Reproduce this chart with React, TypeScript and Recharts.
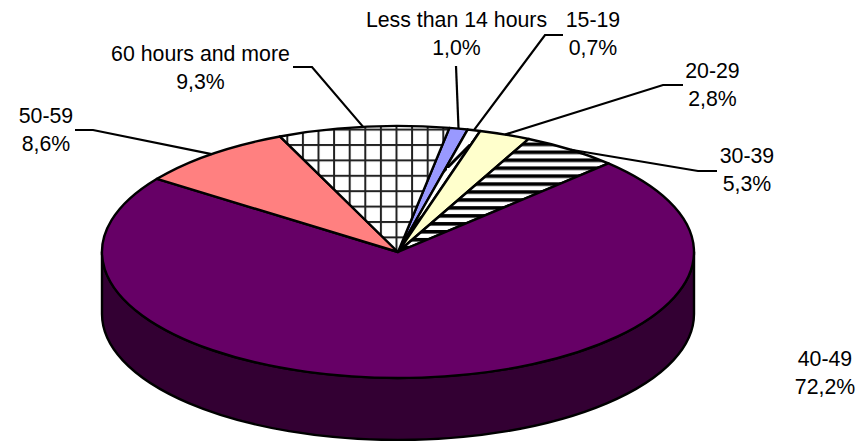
import { PieChart, Pie, Cell } from 'recharts';

const categories = ['Less than 14 hours', '15-19', '20-29', '30-39', '40-49', '50-59', '60 hours and more'];
const shares = [1.0, 0.7, 2.8, 5.3, 72.2, 8.6, 9.3];

const topFills = ['#9999FF', 'url(#diag)', '#FFFFCC', 'url(#stripes)', '#660066', '#FF8080', 'url(#grid)'];
const sideFills = ['#4D4D80', '#808080', '#808066', '#808080', '#330033', '#804040', '#808080'];

// label centre x, baselines and leader elbow points, by category index
const labelX = [456.5, 593, 712.5, 747, 825, 46, 200.5];
const labelY = [27, 27, 78, 163, 366, 123, 61];
const leaders: number[][][] = [
  [[456, 66]],
  [[545, 35], [563, 35]],
  [[663, 85], [683, 85]],
  [[698, 171], [717, 171]],
  [],
  [[93, 130], [75, 130]],
  [[312, 67], [293, 67]],
];

const data = categories.map((name, i) => ({ name, value: shares[i] }));

const CX = 398;
const CY = 252;
const RX = 296;
const RY = 126;
const DEPTH = 62;
const SQUASH = RY / RX;
const RAD = Math.PI / 180;

const px = (cx: number, r: number, a: number) => cx + r * Math.cos(a * RAD);
const py = (cy: number, r: number, a: number) => cy - r * SQUASH * Math.sin(a * RAD);

function TopSlice(props: any) {
  const { cx, cy, outerRadius: r, startAngle: s, endAngle: e, fill } = props;
  const ry = r * SQUASH;
  const large = s - e > 180 ? 1 : 0;
  const d = `M${cx},${cy} L${px(cx, r, s)},${py(cy, r, s)} A${r},${ry} 0 ${large} 1 ${px(cx, r, e)},${py(cy, r, e)} Z`;
  return <path d={d} fill={fill} stroke="#000" strokeWidth={2.4} strokeLinejoin="round" />;
}

function SideSlice(props: any) {
  const { cx, cy, outerRadius: r, startAngle, endAngle, fill } = props;
  const s = Math.min(startAngle, 0);
  const e = Math.max(endAngle, -180);
  if (s <= e) return <g />;
  const ry = r * SQUASH;
  const d =
    `M${px(cx, r, s)},${py(cy, r, s)} A${r},${ry} 0 0 1 ${px(cx, r, e)},${py(cy, r, e)} ` +
    `L${px(cx, r, e)},${py(cy, r, e) + DEPTH} A${r},${ry} 0 0 0 ${px(cx, r, s)},${py(cy, r, s) + DEPTH} Z`;
  return <path d={d} fill={fill} stroke="#000" strokeWidth={2.4} strokeLinejoin="round" />;
}

function SliceLabel(props: any) {
  const { cx, cy, outerRadius: r, midAngle, index, value } = props;
  const elbow = leaders[index];
  const pts = [[px(cx, r, midAngle), py(cy, r, midAngle)], ...elbow];
  const x = labelX[index];
  const y = labelY[index];
  const textStyle = { fontFamily: '"Liberation Sans", Arial, sans-serif', fontSize: 21.3 };
  return (
    <g>
      {elbow.length > 0 && (
        <polyline points={pts.map((p) => p.join(',')).join(' ')} fill="none" stroke="#000" strokeWidth={2.2} />
      )}
      <text x={x} y={y} textAnchor="middle" fill="#000" stroke="none" style={textStyle}>
        {categories[index]}
      </text>
      <text x={x} y={y + 28} textAnchor="middle" fill="#000" stroke="none" style={textStyle}>
        {`${value.toFixed(1).replace('.', ',')}%`}
      </text>
    </g>
  );
}

export default function App() {
  return (
    <div style={{ position: 'absolute', left: 0, top: 0, width: 862, height: 441 }}>
      <PieChart width={862} height={441} margin={{ top: 0, right: 0, bottom: 0, left: 0 }}>
        <defs>
          <pattern id="grid" patternUnits="userSpaceOnUse" x={286.3} y={144} width={15.6} height={15.4}>
            <rect width={15.6} height={15.4} fill="#fff" />
            <rect x={0} y={0} width={2} height={15.4} fill="#222" />
            <rect x={0} y={0} width={15.6} height={2} fill="#222" />
          </pattern>
          <pattern id="stripes" patternUnits="userSpaceOnUse" x={0} y={150.5} width={8} height={7.95}>
            <rect width={8} height={7.95} fill="#fff" />
            <rect x={0} y={0} width={8} height={3.6} fill="#000" />
          </pattern>
          <pattern id="diag" patternUnits="userSpaceOnUse" x={15} y={0} width={24} height={24}>
            <rect width={24} height={24} fill="#fff" />
            <path d="M-2,26 L26,-2" stroke="#000" strokeWidth={3} />
          </pattern>
        </defs>
        <Pie
          data={data}
          dataKey="value"
          nameKey="name"
          cx={CX}
          cy={CY}
          innerRadius={0}
          outerRadius={RX}
          startAngle={80}
          endAngle={-280}
          paddingAngle={0}
          isAnimationActive={false}
          shape={SideSlice}
          label={false}
          labelLine={false}
        >
          {data.map((d, i) => (
            <Cell key={d.name} fill={sideFills[i]} />
          ))}
        </Pie>
        <Pie
          data={data}
          dataKey="value"
          nameKey="name"
          cx={CX}
          cy={CY}
          innerRadius={0}
          outerRadius={RX}
          startAngle={80}
          endAngle={-280}
          paddingAngle={0}
          isAnimationActive={false}
          shape={TopSlice}
          label={SliceLabel}
          labelLine={false}
        >
          {data.map((d, i) => (
            <Cell key={d.name} fill={topFills[i]} />
          ))}
        </Pie>
      </PieChart>
    </div>
  );
}
